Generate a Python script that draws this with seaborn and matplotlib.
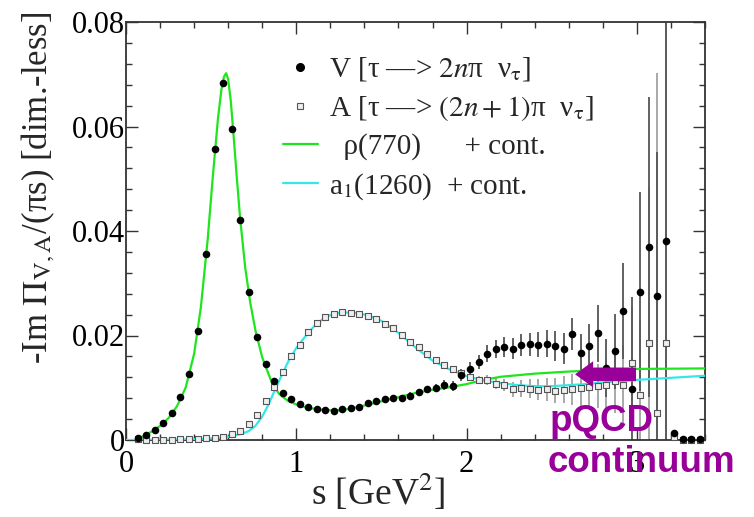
import matplotlib
matplotlib.use("Agg")
import matplotlib.pyplot as plt
import seaborn as sns
import pandas as pd
from matplotlib.lines import Line2D
from matplotlib.patches import FancyArrow
from matplotlib.ticker import MultipleLocator, FixedLocator, FixedFormatter

# ---------------- data ----------------
s_bins = [0.07, 0.12, 0.17, 0.22, 0.27, 0.32, 0.37, 0.42, 0.47, 0.52,
          0.57, 0.62, 0.67, 0.72, 0.77, 0.82, 0.87, 0.92, 0.97, 1.02,
          1.07, 1.12, 1.17, 1.22, 1.27, 1.32, 1.37, 1.42, 1.47, 1.52,
          1.57, 1.62, 1.67, 1.72, 1.77, 1.82, 1.87, 1.92, 1.97, 2.02,
          2.07, 2.12, 2.17, 2.22, 2.27, 2.32, 2.37, 2.42, 2.47, 2.52,
          2.57, 2.62, 2.67, 2.72, 2.77, 2.82, 2.87, 2.92, 2.97, 3.02,
          3.07, 3.12, 3.17, 3.22, 3.27, 3.32, 3.37]

v_data = [0.0003, 0.0010, 0.0020, 0.0032, 0.0051, 0.0082, 0.0126, 0.0209, 0.0356, 0.0557,
          0.0683, 0.0596, 0.0421, 0.0284, 0.0198, 0.0145, 0.0112, 0.0089, 0.0078, 0.0069,
          0.0064, 0.0060, 0.0057, 0.0055, 0.0059, 0.0061, 0.0064, 0.0071, 0.0075, 0.0078,
          0.0081, 0.0080, 0.0085, 0.0092, 0.0097, 0.0099, 0.0105, 0.0103, 0.0124, 0.0136,
          0.0149, 0.0165, 0.0174, 0.0178, 0.0175, 0.0182, 0.0183, 0.0182, 0.0184, 0.0180,
          0.0175, 0.0203, 0.0166, 0.0180, 0.0204, 0.0138, 0.0170, 0.0247, 0.0097, 0.0284,
          0.0370, 0.0276, 0.0381, 0.0014, 0.0001, 0.0001, 0.0001]

v_err = [0.0002, 0.0002, 0.0002, 0.0002, 0.0002, 0.0002, 0.0002, 0.0002, 0.0002, 0.0002,
         0.0002, 0.0002, 0.0002, 0.0002, 0.0002, 0.0002, 0.0002, 0.0002, 0.0002, 0.0002,
         0.0002, 0.0002, 0.0002, 0.0002, 0.0002, 0.0002, 0.0002, 0.0002, 0.0004, 0.0004,
         0.0005, 0.0005, 0.0006, 0.0006, 0.0007, 0.0008, 0.0009, 0.0010, 0.0012, 0.0013,
         0.0014, 0.0016, 0.0017, 0.0019, 0.0020, 0.0021, 0.0022, 0.0024, 0.0026, 0.0028,
         0.0030, 0.0030, 0.0036, 0.0042, 0.0054, 0.0055, 0.0072, 0.0092, 0.0177, 0.0190,
         0.0287, 0.0276, 0.0700, 0.0006, 0.0000, 0.0000, 0.0000]

a_data = [0.0001, 0.0000, 0.0000, 0.0000, 0.0000, 0.0001, 0.0001, 0.0001, 0.0003, 0.0004,
          0.0006, 0.0011, 0.0018, 0.0030, 0.0048, 0.0074, 0.0102, 0.0131, 0.0160, 0.0182,
          0.0207, 0.0224, 0.0236, 0.0242, 0.0245, 0.0243, 0.0242, 0.0237, 0.0231, 0.0222,
          0.0214, 0.0201, 0.0188, 0.0178, 0.0165, 0.0154, 0.0144, 0.0136, 0.0128, 0.0120,
          0.0115, 0.0115, 0.0108, 0.0105, 0.0097, 0.0099, 0.0098, 0.0096, 0.0097, 0.0094,
          0.0096, 0.0097, 0.0099, 0.0102, 0.0104, 0.0105, 0.0112, 0.0105, 0.0147, 0.0087,
          0.0185, 0.0052, 0.0186, 0.0006, 0.0000, 0.0000, 0.0000]

a_err = [0.0002, 0.0002, 0.0002, 0.0002, 0.0002, 0.0002, 0.0002, 0.0002, 0.0002, 0.0002,
         0.0002, 0.0002, 0.0002, 0.0002, 0.0002, 0.0002, 0.0002, 0.0002, 0.0002, 0.0002,
         0.0002, 0.0002, 0.0002, 0.0002, 0.0002, 0.0002, 0.0002, 0.0002, 0.0002, 0.0002,
         0.0002, 0.0002, 0.0002, 0.0002, 0.0002, 0.0002, 0.0004, 0.0005, 0.0006, 0.0007,
         0.0008, 0.0010, 0.0011, 0.0012, 0.0014, 0.0016, 0.0018, 0.0020, 0.0022, 0.0024,
         0.0026, 0.0030, 0.0033, 0.0037, 0.0042, 0.0050, 0.0060, 0.0075, 0.0110, 0.0140,
         0.0300, 0.0650, 0.0700, 0.0006, 0.0000, 0.0000, 0.0000]

rho_s = [0.06, 0.10, 0.15, 0.20, 0.25, 0.30, 0.35, 0.40, 0.44, 0.48,
         0.51, 0.54, 0.56, 0.575, 0.588, 0.60, 0.615, 0.63, 0.65, 0.67,
         0.70, 0.73, 0.76, 0.80, 0.85, 0.875, 0.90, 0.95, 1.00, 1.05,
         1.10, 1.15, 1.20, 1.25, 1.30, 1.40, 1.50, 1.60, 1.70, 1.80,
         1.90, 2.00, 2.10, 2.20, 2.40, 2.60, 2.80, 3.00, 3.40]
rho_v = [0.0000, 0.0007, 0.0016, 0.0027, 0.0042, 0.0065, 0.0100, 0.0165, 0.0255, 0.0385,
         0.0505, 0.0615, 0.0670, 0.0695, 0.0702, 0.0690, 0.0650, 0.0590, 0.0505, 0.0425,
         0.0330, 0.0262, 0.0210, 0.0158, 0.0115, 0.0099, 0.0088, 0.0075, 0.0068, 0.0063,
         0.0060, 0.0058, 0.0057, 0.0057, 0.0059, 0.0066, 0.0074, 0.0082, 0.0090, 0.0096,
         0.0101, 0.0107, 0.0115, 0.0121, 0.0127, 0.0131, 0.0134, 0.0136, 0.0137]

a1_s = [0.00, 0.30, 0.45, 0.55, 0.62, 0.68, 0.72, 0.76, 0.80, 0.84,
        0.88, 0.92, 0.96, 1.00, 1.05, 1.10, 1.15, 1.20, 1.25, 1.30,
        1.35, 1.40, 1.45, 1.50, 1.60, 1.70, 1.80, 1.90, 2.00, 2.10,
        2.20, 2.30, 2.40, 2.50, 2.60, 2.70, 2.80, 3.00, 3.20, 3.40]
a1_v = [0.0000, 0.0001, 0.0002, 0.0004, 0.0007, 0.0012, 0.0017, 0.0027, 0.0045, 0.0070,
        0.0100, 0.0128, 0.0155, 0.0176, 0.0197, 0.0216, 0.0230, 0.0239, 0.0243, 0.0244,
        0.0243, 0.0240, 0.0235, 0.0228, 0.0205, 0.0177, 0.0152, 0.0135, 0.0122, 0.0114,
        0.0109, 0.0105, 0.0103, 0.0103, 0.0105, 0.0107, 0.0110, 0.0115, 0.0119, 0.0123]

x_ticks = [0, 1, 2, 3]
x_tick_labels = ["0", "1", "2", "3"]
y_ticks = [0.0, 0.02, 0.04, 0.06, 0.08]
y_tick_labels = ["0", "0.02", "0.04", "0.06", "0.08"]

legend_labels = [
    r"V [τ —> $\mathit{2n}$π  ν$_{\mathrm{τ}}$]",
    r"A [τ —> $\mathit{(2n+1)}$π  ν$_{\mathrm{τ}}$]",
    "  ρ(770)      + cont.",
    r"a$_{1}$(1260)  + cont.",
]

# ---------------- style ----------------
sns.set_theme(style="ticks")
plt.rcParams["font.family"] = ["Liberation Serif", "DejaVu Serif"]
plt.rcParams["mathtext.fontset"] = "stix"

GREEN = "#1ee61e"
CYAN = "#35e8e8"
PURPLE = "#990099"
FRAME = "#333333"

fig = plt.figure(figsize=(7.54, 5.17), dpi=100)
ax = fig.add_axes([126 / 754, 1 - 440 / 517, 579 / 754, 418 / 517])

pts = pd.DataFrame({"s": s_bins, "V": v_data, "Verr": v_err, "A": a_data, "Aerr": a_err})
rho = pd.DataFrame({"s": rho_s, "val": rho_v})
a1 = pd.DataFrame({"s": a1_s, "val": a1_v})

# error bars (clipped to the axes)
ax.errorbar(pts["s"], pts["A"], yerr=pts["Aerr"], fmt="none", ecolor="#9a9a9a",
            elinewidth=1.2, capsize=0, zorder=2)
ax.errorbar(pts["s"], pts["V"], yerr=pts["Verr"], fmt="none", ecolor="#555555",
            elinewidth=1.3, capsize=0, zorder=2)

# curves
sns.lineplot(data=rho, x="s", y="val", ax=ax, color=GREEN, lw=1.6, zorder=3,
             estimator=None, sort=False)
sns.lineplot(data=a1, x="s", y="val", ax=ax, color=CYAN, lw=1.6, zorder=3,
             estimator=None, sort=False)

# points (allowed to sit on the frame)
n_before = len(ax.collections)
sns.scatterplot(data=pts, x="s", y="A", ax=ax, marker="s", s=20, color="#eeeeee",
                edgecolor="#555555", linewidth=0.8, zorder=4)
sns.scatterplot(data=pts, x="s", y="V", ax=ax, marker="o", s=30, color="black",
                edgecolor="black", linewidth=0, zorder=5)
for coll in ax.collections[n_before:]:
    coll.set_clip_on(False)

# arrow
ax.add_patch(FancyArrow(2.995, 0.01257, -0.358, 0.0, width=0.0026, head_width=0.0050,
                        head_length=0.106, length_includes_head=True,
                        color=PURPLE, lw=0, zorder=7))

# axes
ax.set_xlim(0, 3.4)
ax.set_ylim(0, 0.08)
ax.xaxis.set_major_locator(FixedLocator(x_ticks))
ax.xaxis.set_major_formatter(FixedFormatter(x_tick_labels))
ax.yaxis.set_major_locator(FixedLocator(y_ticks))
ax.yaxis.set_major_formatter(FixedFormatter(y_tick_labels))
ax.xaxis.set_minor_locator(MultipleLocator(0.2))
ax.yaxis.set_minor_locator(MultipleLocator(0.004))
ax.tick_params(which="both", direction="in", top=True, right=True, color=FRAME,
               width=1.0, labelcolor="black", labelsize=22)
ax.tick_params(which="major", length=8.5)
ax.tick_params(which="minor", length=4.5)
ax.tick_params(axis="x", pad=7)
ax.tick_params(axis="y", pad=1)
for sp in ax.spines.values():
    sp.set_color(FRAME)
    sp.set_linewidth(1.3)

ax.set_xlabel("s [GeV$^{2}$]", fontsize=27)
ax.xaxis.set_label_coords(0.435, -0.075)
ax.set_ylabel(r"-Im $\mathrm{\Pi}_{\mathrm{V,A}}$/(πs) [dim.-less]", fontsize=25)
ax.yaxis.set_label_coords(-0.12, 0.603)

# legend
handles = [
    Line2D([], [], ls="none", marker="o", ms=5.5, color="black"),
    Line2D([], [], ls="none", marker="s", ms=4.3, mfc="#eeeeee", mec="#555555", mew=0.8),
    Line2D([], [], color=GREEN, lw=1.6),
    Line2D([], [], color=CYAN, lw=1.6),
]
ax.legend(handles, legend_labels, loc="upper left", bbox_to_anchor=(0.271, 0.92),
          frameon=False, fontsize=21, handlelength=1.2, handletextpad=0.38,
          labelspacing=0.36, borderaxespad=0, borderpad=0)

# pQCD continuum annotation
fig.text(550 / 754, 1 - 431 / 517, "pQCD", color=PURPLE, fontsize=26.5,
         fontweight="bold", family="Liberation Sans", ha="left", va="baseline", zorder=10)
fig.text(548 / 754, 1 - 472 / 517, "continuum", color=PURPLE, fontsize=26.5,
         fontweight="bold", family="Liberation Sans", ha="left", va="baseline", zorder=10)

fig.savefig("out.png", dpi=100)
